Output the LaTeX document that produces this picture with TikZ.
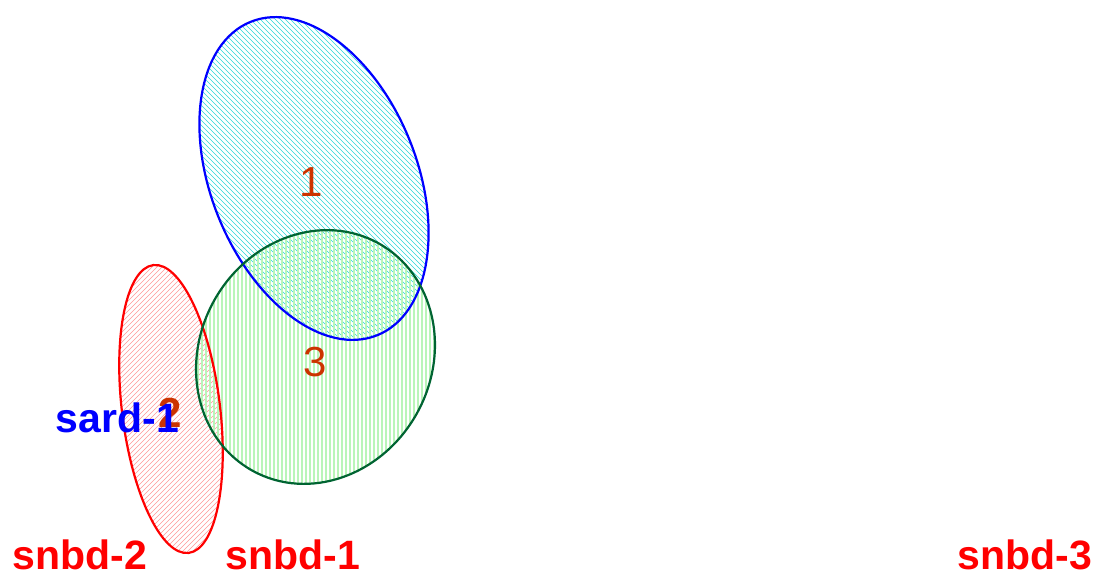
\documentclass[tikz,border=0pt]{standalone}
\usepackage{fontspec}
\setmainfont{Liberation Sans}
\usepackage{xcolor}

\definecolor{setblue}{RGB}{0,0,255}
\definecolor{setcyan}{RGB}{40,215,215}
\definecolor{setgreen}{RGB}{0,100,50}
\definecolor{setlime}{RGB}{185,245,185}
\definecolor{setred}{RGB}{255,0,0}
\definecolor{setpink}{RGB}{255,150,150}
\definecolor{countcol}{RGB}{204,51,0}

\tikzset{
  setline/.style={line width=2.2pt},
  hatchline/.style={line width=0.6pt},
  countlabel/.style={text=countcol, font=\fontsize{42}{48}\selectfont, inner sep=0pt},
  setname/.style={font=\fontsize{41}{48}\selectfont\bfseries, inner sep=0pt, anchor=base}
}

\begin{document}
\begin{tikzpicture}[x=1pt, y=1pt]
	\useasboundingbox (0,0) rectangle (1095,574);
	% hatching of set 1
	\begin{scope}
		\clip (314,395.5) ellipse[x radius=169, y radius=103, rotate=112];
		\foreach \c in {425,430,...,995}
		\draw[hatchline, setcyan] (\c-574,574) -- (\c,0);
	\end{scope}
	% hatching of set 2
	\begin{scope}
		\clip (171,165) ellipse[x radius=145, y radius=49, rotate=97];
		\foreach \c in {-200,-195,...,210}
		\draw[hatchline, setpink] (\c,0) -- (\c+574,574);
	\end{scope}
	% hatching of set 3
	\begin{scope}
		\clip (315.5,217) ellipse[x radius=130, y radius=116, rotate=61];
		\foreach \c in {190,194,...,442}
		\draw[line width=1.3pt, setlime] (\c,0) -- (\c,574);
	\end{scope}
	% outlines
	\draw[setline, setblue] (314,395.5) ellipse[x radius=169, y radius=103, rotate=112];
	\draw[setline, setred] (171,165) ellipse[x radius=145, y radius=49, rotate=97];
	\draw[setline, setgreen] (315.5,217) ellipse[x radius=130, y radius=116, rotate=61];
	% counts
	\node[countlabel] (cnt1) at (311,392) {1};
	\node[countlabel] (cnt3) at (315,212) {3};
	\node[countlabel, font=\fontsize{42}{48}\selectfont\bfseries] (cnt2) at (170,161) {2};
	% set names
	\node[setname, text=setblue] (sard1) at (117.5,142) {sard-1};
	\node[setname, text=setred] (snbd2) at (80,5) {snbd-2};
	\node[setname, text=setred] (snbd1) at (293,5) {snbd-1};
	\node[setname, text=setred] (snbd3) at (1025,5) {snbd-3};
\end{tikzpicture}
\end{document}
